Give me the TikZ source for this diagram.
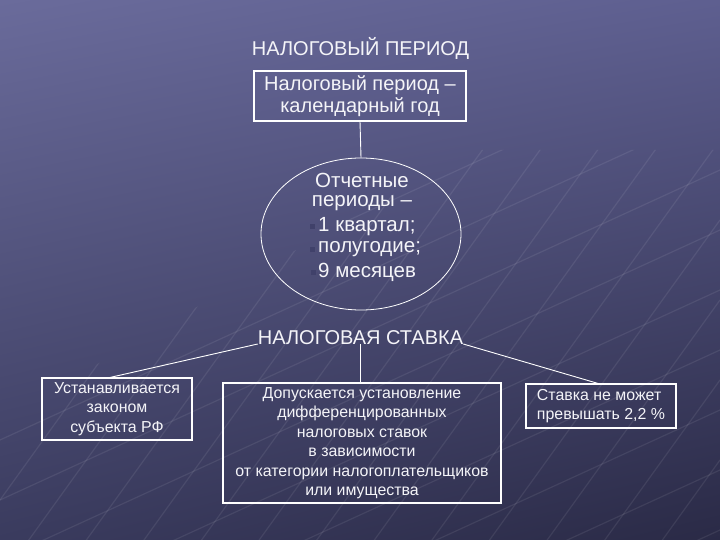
\documentclass[tikz,border=0pt]{standalone}
\usepackage{fontspec}
\setmainfont{Liberation Sans}
\usetikzlibrary{shapes.geometric,calc,shadings}
\definecolor{bgUL}{HTML}{6A6B9B}
\definecolor{bgUR}{HTML}{5E5F90}
\definecolor{bgLL}{HTML}{3A3B5E}
\definecolor{bgLR}{HTML}{2A2A46}
\definecolor{txt}{HTML}{F4F4F8}
\definecolor{bulletc}{HTML}{40416A}
\begin{document}
\begin{tikzpicture}[x=1pt,y=-1pt,
  box/.style={draw=white, line width=1.1pt, inner sep=0pt, align=center, text=txt},
  conn/.style={draw=white, line width=0.9pt},
  big/.style={font=\fontsize{20}{19}\selectfont, text=txt},
  ellt/.style={font=\fontsize{20.5}{19}\selectfont, text=txt},
  small/.style={font=\fontsize{15.9}{19.5}\selectfont},
  texture/.style={white, opacity=0.08, line width=1.2pt}]
\useasboundingbox (0,0) rectangle (720,540);
\shade[upper left=bgUL, upper right=bgUR, lower left=bgLL, lower right=bgLR] (0,0) rectangle (720,540);
% faint background texture
\begin{scope}
  \clip (0,420) -- (470,150) -- (720,150) -- (720,540) -- (0,540) -- cycle;
  \foreach \c in {200,260,...,1000}
    \draw[texture] (0,\c) -- (720,\c-330);
  \foreach \c in {500,580,...,1500}
    \draw[texture] (0,\c) -- (720,\c-1000);
\end{scope}

% top part
\node[big, inner sep=0pt] (t1) at (360.5,48) {НАЛОГОВЫЙ ПЕРИОД};
\node[box, font=\fontsize{20}{22}\selectfont, minimum width=212pt, minimum height=50pt] (b1) at (360,96) {Налоговый период –\\календарный год};

\node[ellipse, draw=white, line width=0.8pt, minimum width=200pt, minimum height=152pt, inner sep=0pt] (ell) at (361,234) {};
\node[ellt, align=center, inner sep=0pt] (e1) at (362,192) {Отчетные\\периоды –};
\node[ellt, anchor=west, inner sep=0pt] (e2) at (318,227) {1 квартал;};
\node[ellt, anchor=west, inner sep=0pt] (e3) at (318,249) {полугодие;};
\node[ellt, anchor=west, inner sep=0pt] (e4) at (318,272) {9 месяцев};
\fill[bulletc] (309.5,224.5) rectangle ++(5,5);
\fill[bulletc] (309.5,246.5) rectangle ++(5,5);
\fill[bulletc] (310.5,269.5) rectangle ++(5,5);

\draw[conn] (b1.south) -- (ell.north);

% bottom part
\node[big, inner sep=0pt, anchor=base] (st) at (360.5,344) {НАЛОГОВАЯ СТАВКА};

\node[box, small, minimum width=150pt, minimum height=62pt] (lb) at (117,409) {Устанавливается\\законом\\субъекта РФ};
\node[box, small, minimum width=278pt, minimum height=120pt] (mb) at (362,443) {Допускается установление\\дифференцированных\\налоговых ставок\\в зависимости\\от категории налогоплательщиков\\или имущества};
\node[box, small, align=left, minimum width=150pt, minimum height=44pt] (rb) at (601,406) {Ставка не может\\превышать 2,2 \%};

\draw[conn] (st.base west) -- ([xshift=-7pt]lb.north);
\draw[conn] (st.base) -- (st.base |- mb.north);
\draw[conn] (st.base east) -- ([xshift=-3pt]rb.north);
\end{tikzpicture}
\end{document}
